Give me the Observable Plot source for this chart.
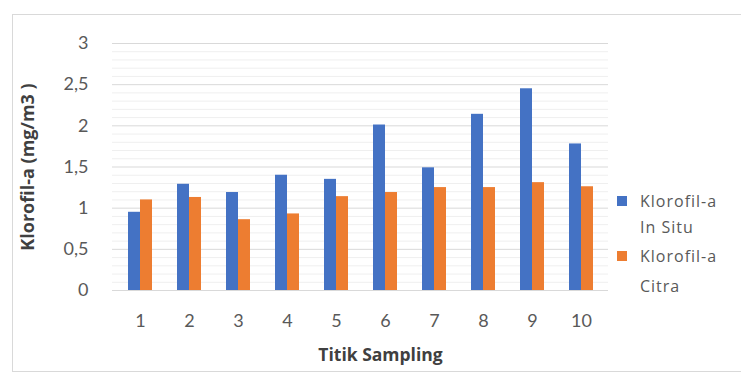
<!DOCTYPE html>
<html>
<head>
<meta charset="utf-8">
<script src="https://cdn.jsdelivr.net/npm/d3@7"></script>
<script src="https://cdn.jsdelivr.net/npm/@observablehq/plot@0.6"></script>
<style>
  html, body { margin: 0; padding: 0; background: #fff; }
  #wrap { position: relative; width: 741px; height: 381px; overflow: hidden; background: #fff; }
  #border { position: absolute; left: 12px; top: 14px; width: 740px; height: 358px; border: 1px solid #d9d9d9; box-sizing: border-box; }
  #chart { position: absolute; left: 0; top: 0; }
  .legend-item { position: absolute; left: 617px; font-family: "Open Sans", Lato, sans-serif; font-size: 16px; letter-spacing: 1px; color: #595959; }
  .legend-item .sw { position: absolute; left: 0; width: 10px; height: 10px; }
  .legend-item .tx { position: absolute; left: 23px; top: 0; white-space: nowrap; }
</style>
</head>
<body>
<div id="wrap">
  <div id="border"></div>
  <div id="chart"></div>
  <div id="legend"></div>
</div>
<script>
// Sampling points (categories)
const points = ["1", "2", "3", "4", "5", "6", "7", "8", "9", "10"];
// Chlorophyll-a, in situ measurement (mg/m3)
const inSitu = [0.95, 1.29, 1.19, 1.40, 1.35, 2.01, 1.49, 2.14, 2.45, 1.78];
// Chlorophyll-a, derived from satellite imagery (mg/m3)
const citra = [1.10, 1.13, 0.86, 0.93, 1.14, 1.19, 1.25, 1.25, 1.31, 1.26];
// Series names and colours
const seriesKeys = ["In Situ", "Citra"];
const seriesLabels = [["Klorofil-a", "In Situ"], ["Klorofil-a", "Citra"]];
const seriesColors = ["#4472c4", "#ed7d31"];
// Y axis ticks and minor gridlines
const yTicks = [0, 0.5, 1, 1.5, 2, 2.5, 3];
const minorTicks = [0.1, 0.2, 0.3, 0.4, 0.6, 0.7, 0.8, 0.9, 1.1, 1.2, 1.3, 1.4, 1.6, 1.7, 1.8, 1.9, 2.1, 2.2, 2.3, 2.4, 2.6, 2.7, 2.8, 2.9];

const yTitle = "Klorofil-a (mg/m3 )";
const xTitle = "Titik Sampling";

const rowsInSitu = points.map((p, i) => ({point: p, series: seriesKeys[0], value: inSitu[i]}));
const rowsCitra = points.map((p, i) => ({point: p, series: seriesKeys[1], value: citra[i]}));

const font = "Lato, 'Open Sans', sans-serif";
const titleFont = "'Open Sans', Lato, sans-serif";
const fmt = d => String(d).replace(".", ",");

const chart = Plot.plot({
  width: 741,
  height: 381,
  marginLeft: 112,
  marginRight: 133,
  marginTop: 43,
  marginBottom: 91,
  style: {fontFamily: font, background: "transparent", overflow: "visible"},
  x: {domain: points, paddingInner: 0.516, paddingOuter: 0.258, axis: null},
  y: {domain: [0, 3], axis: null},
  color: {domain: seriesKeys, range: seriesColors},
  marks: [
    Plot.ruleY(minorTicks, {stroke: "#efefef", strokeWidth: 1}),
    Plot.ruleY(yTicks, {stroke: "#d9d9d9", strokeWidth: 1}),
    Plot.barY(rowsInSitu, {x: "point", y: "value", fill: "series", insetRight: 12}),
    Plot.barY(rowsCitra, {x: "point", y: "value", fill: "series", insetLeft: 12}),
    Plot.axisY(yTicks, {tickSize: 0, tickPadding: 24, tickFormat: fmt, fontSize: 18, fill: "#595959", label: null}),
    Plot.axisX({tickSize: 0, tickPadding: 24, fontSize: 18, fill: "#595959", label: null}),
    Plot.text([yTitle], {frameAnchor: "left", dx: -84, rotate: -90, fontSize: 18, fontWeight: "bold", fontFamily: titleFont, fill: "#404040", textAnchor: "middle"}),
    Plot.text([xTitle], {frameAnchor: "bottom", dx: 20, dy: 70, fontSize: 17.5, fontWeight: "bold", fontFamily: titleFont, fill: "#404040", textAnchor: "middle"})
  ]
});
document.getElementById("chart").appendChild(chart);

// Legend to the right of the plot: one block per series, two lines each
const legendTops = [188, 241];
const legendLineHeights = [26, 30];
const legend = document.getElementById("legend");
seriesKeys.forEach((k, i) => {
  const item = document.createElement("div");
  item.className = "legend-item";
  item.style.top = legendTops[i] + "px";
  const lh = legendLineHeights[i];
  const sw = document.createElement("div");
  sw.className = "sw";
  sw.style.top = (lh / 2 - 5) + "px";
  sw.style.background = seriesColors[i];
  const tx = document.createElement("div");
  tx.className = "tx";
  tx.style.lineHeight = lh + "px";
  tx.innerHTML = seriesLabels[i][0] + "<br>" + seriesLabels[i][1];
  item.appendChild(sw);
  item.appendChild(tx);
  legend.appendChild(item);
});
</script>
</body>
</html>
